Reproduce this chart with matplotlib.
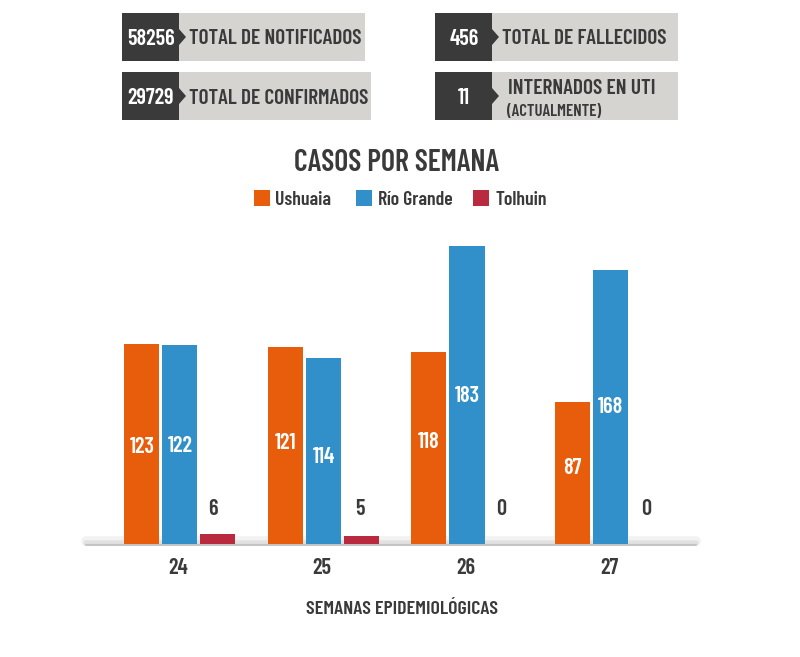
import matplotlib
matplotlib.use('Agg')
import matplotlib.pyplot as plt
from matplotlib.patches import Rectangle, Polygon
import numpy as np

semanas = ['24', '25', '26', '27']
ushuaia = [123, 121, 118, 87]
rio_grande = [122, 114, 183, 168]
tolhuin = [6, 5, 0, 0]

naranja = '#e85d0c'
azul = '#318fc9'
rojo = '#b92a3e'
oscuro = '#3a3a3a'
claro = '#d6d4d1'

plt.rcParams['font.family'] = ['Barlow Condensed', 'Archivo Narrow', 'Roboto', 'DejaVu Sans']
plt.rcParams['font.weight'] = 600

fig = plt.figure(figsize=(8, 6.57), dpi=100)

# capa en pixeles para los recuadros y los textos sueltos
fondo = fig.add_axes([0, 0, 1, 1])
fondo.set_xlim(0, 800)
fondo.set_ylim(657, 0)
fondo.axis('off')


def recuadro(x, y, fin, numero, texto, sub=None):
    fondo.add_patch(Rectangle((x + 57, y), fin - x - 57, 48, color=claro, lw=0))
    fondo.add_patch(Rectangle((x, y), 57, 48, color=oscuro, lw=0))
    fondo.add_patch(Polygon([(x + 57, y + 16), (x + 64, y + 24), (x + 57, y + 32)], color=oscuro, lw=0))
    fondo.text(x + 29, y + 26, numero, color='white', fontsize=16, ha='center', va='center')
    if sub is None:
        fondo.text(x + 67, y + 26, texto, color=oscuro, fontsize=15.3, ha='left', va='center')
    else:
        fondo.text(x + 73, y + 16, texto, color=oscuro, fontsize=15.4, ha='left', va='center')
        fondo.text(x + 72, y + 39, sub, color=oscuro, fontsize=12, ha='left', va='center')


recuadro(122, 13, 365, '58256', 'TOTAL DE NOTIFICADOS')
recuadro(122, 72, 371, '29729', 'TOTAL DE CONFIRMADOS')
recuadro(435, 13, 678, '456', 'TOTAL DE FALLECIDOS')
recuadro(435, 72, 678, '11', 'INTERNADOS EN UTI', '(ACTUALMENTE)')

fondo.text(397, 163, 'CASOS POR SEMANA', color=oscuro, fontsize=21.5, ha='center', va='center')
fondo.text(401.5, 609, 'SEMANAS EPIDEMIOLÓGICAS', color=oscuro, fontsize=14.3, ha='center', va='center')

# leyenda
for x, dx, color, nombre in [(254, 21, naranja, 'Ushuaia'), (356, 22, azul, 'Río Grande'), (473, 22, rojo, 'Tolhuin')]:
    fondo.add_patch(Rectangle((x, 190), 16, 16, color=color, lw=0))
    fondo.text(x + dx, 200, nombre, color=oscuro, fontsize=14.2, ha='left', va='center')

# sombra de la linea base
for y, grosor, alfa in [(541, 7, 0.10), (543, 4, 0.14), (544.5, 1.5, 0.30)]:
    fondo.plot([86, 696], [y, y], color='#808080', lw=grosor, alpha=alfa, solid_capstyle='round')

# grafico de barras
ax = fig.add_axes([82.5 / 800, (657 - 544) / 657, 615 / 800, 314 / 657])
ax.patch.set_alpha(0)
ax.set_xlim(-0.679, 3.606)
ax.set_ylim(0, 314 / 1.628)
for lado in ax.spines.values():
    lado.set_visible(False)

x = np.arange(len(semanas))
ancho = 0.244
paso = 0.265
b1 = ax.bar(x - paso, ushuaia, ancho, color=naranja)
b2 = ax.bar(x, rio_grande, ancho, color=azul)
b3 = ax.bar(x + paso, tolhuin, ancho, color=rojo)

# ajustes a mano de las etiquetas, en puntos
ajuste_u = [-2, 2, 4, 4]
ajuste_r = [-1, -4, -1, 0]
ajuste_t = [-5, -2, -4, -3]

for barras, ajuste in ((b1, ajuste_u), (b2, ajuste_r)):
    for barra, dy in zip(barras, ajuste):
        ax.annotate(str(int(barra.get_height())),
                    (barra.get_x() + barra.get_width() / 2, barra.get_height() / 2),
                    xytext=(0, dy), textcoords='offset points',
                    color='white', fontsize=16, ha='center', va='center')
for xi, v, dx in zip(x, tolhuin, ajuste_t):
    ax.annotate(str(v), (xi + paso + 0.01, 22.7), xytext=(dx, -1.5), textcoords='offset points',
                color=oscuro, fontsize=16, ha='center', va='center')

ax.set_yticks([])
ax.set_xticks(x - 0.01)
ax.set_xticklabels(semanas, fontsize=16, color=oscuro)
ax.tick_params(axis='x', length=0, pad=10)

fig.savefig('out.png', dpi=100)
